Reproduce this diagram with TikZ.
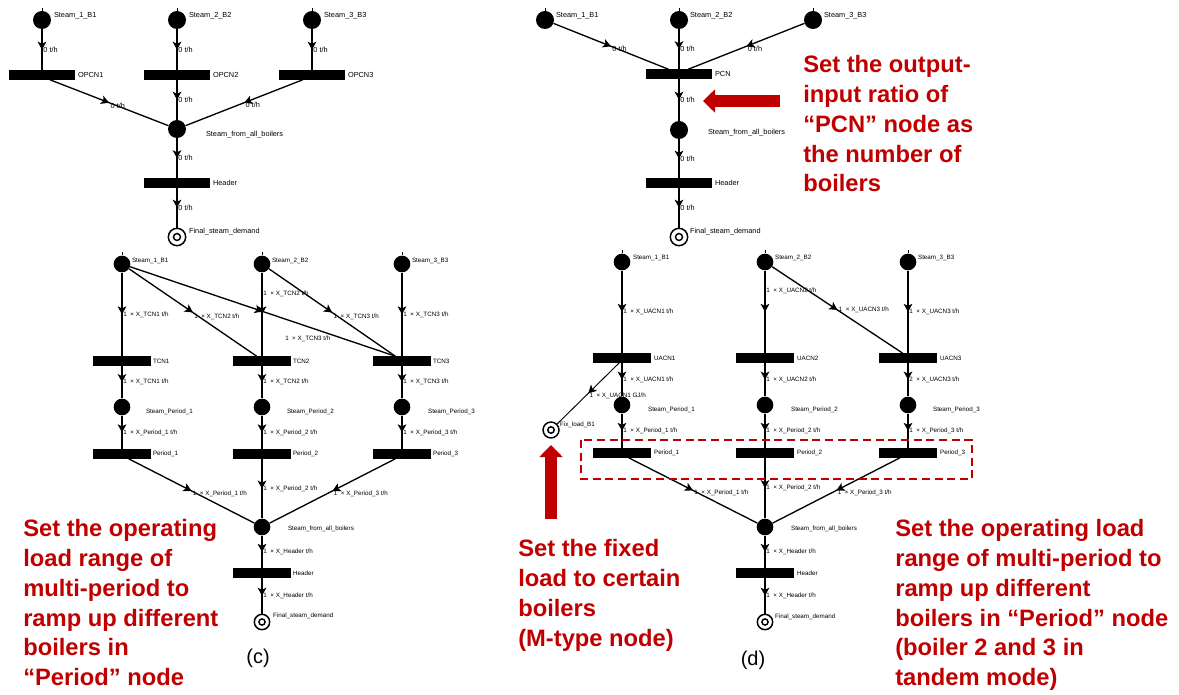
\documentclass[tikz,border=0pt]{standalone}
\usepackage{fontspec}
\setmainfont{Liberation Sans}
\usetikzlibrary{arrows.meta,decorations.markings,positioning}
\definecolor{annot}{RGB}{192,0,0}

\begin{document}
\begin{tikzpicture}
    [x=0.75pt,y=-0.75pt,%
    place/.style={circle,fill=black,minimum size=#1,inner sep=0pt},
    place/.default=13.5pt,
    bar/.style={fill=black,minimum width=#1,minimum height=6.8pt,inner sep=0pt},
    bar/.default=50pt,
    sink/.style={circle,draw,line width=1.1pt,minimum size=#1,inner sep=0pt,
      path picture={
        \draw[line width=1.1pt] (path picture bounding box.center) circle ({0.2*#1});
      }},
    sink/.default=13pt,
    flow/.style={line width=1pt,postaction={decorate},
      decoration={markings,mark=at position #1 with {\arrow{Stealth[length=6pt,width=6.5pt,inset=1.5pt]}}}},
    flow/.default=0.5,
    lbl/.style={font=\fontsize{5.5}{6.5}\selectfont,inner sep=0.6pt},
    slbl/.style={font=\fontsize{4.7}{5.6}\selectfont,inner sep=0.6pt},
    note/.style={text=annot,font=\fontsize{17.8}{22.4}\selectfont\bfseries,align=left,inner sep=0pt},
    bigarrow/.style={annot,line width=9pt,-{Triangle[length=9pt,width=17pt]}}]
    \tikzstyle{elbl}=[lbl,anchor=west]
    \tikzstyle{eslbl}=[slbl,anchor=west]
    \useasboundingbox (0,0) rectangle (1179,695);

    % (a) one OPCN node per boiler
    \node[place] (a-s1) at (42,20) {};
    \node[place] (a-s2) at (177,20) {};
    \node[place] (a-s3) at (312,20) {};
    \node[bar] (a-o1) at (42,75) {};
    \node[bar] (a-o2) at (177,75) {};
    \node[bar] (a-o3) at (312,75) {};
    \node[place] (a-all) at (177,129) {};
    \node[bar] (a-hdr) at (177,183) {};
    \node[sink] (a-fin) at (177,237) {};

    \node[lbl,anchor=west] (a-s1l) at (53,16) {Steam\_1\_B1};
    \node[lbl,anchor=west] (a-s2l) at (188,16) {Steam\_2\_B2};
    \node[lbl,anchor=west] (a-s3l) at (323,16) {Steam\_3\_B3};
    \node[lbl,anchor=west] (a-o1l) at (77,75) {OPCN1};
    \node[lbl,anchor=west] (a-o2l) at (212,75) {OPCN2};
    \node[lbl,anchor=west] (a-o3l) at (347,75) {OPCN3};
    \node[lbl,anchor=west] (a-alll) at (205,135) {Steam\_from\_all\_boilers};
    \node[lbl,anchor=west] (a-hdrl) at (212,183) {Header};
    \node[lbl,anchor=west] (a-finl) at (188,232) {Final\_steam\_demand};

    \draw[flow] (a-s1) -- node[elbl] {0 t/h} (a-o1);
    \draw[flow] (a-s2) -- node[elbl] {0 t/h} (a-o2);
    \draw[flow] (a-s3) -- node[elbl] {0 t/h} (a-o3);
    \draw[flow] ([xshift=6pt]a-o1.south) -- node[elbl,yshift=-2pt] {0 t/h} (a-all);
    \draw[flow] (a-o2) -- node[elbl] {0 t/h} (a-all);
    \draw[flow] ([xshift=-7pt]a-o3.south) -- node[elbl,yshift=-2pt] {0 t/h} (a-all);
    \draw[flow] (a-all) -- node[elbl] {0 t/h} (a-hdr);
    \draw[flow] (a-hdr) -- node[elbl] {0 t/h} (a-fin);

    % (b) one PCN node for all boilers
    \node[place] (b-s1) at (545,20) {};
    \node[place] (b-s2) at (679,20) {};
    \node[place] (b-s3) at (813,20) {};
    \node[bar] (b-pcn) at (679,74) {};
    \node[place] (b-all) at (679,130) {};
    \node[bar] (b-hdr) at (679,183) {};
    \node[sink] (b-fin) at (679,237) {};

    \node[lbl,anchor=west] (b-s1l) at (555,16) {Steam\_1\_B1};
    \node[lbl,anchor=west] (b-s2l) at (689,16) {Steam\_2\_B2};
    \node[lbl,anchor=west] (b-s3l) at (823,16) {Steam\_3\_B3};
    \node[lbl,anchor=west] (b-pcnl) at (714,74) {PCN};
    \node[lbl,anchor=west] (b-alll) at (707,133) {Steam\_from\_all\_boilers};
    \node[lbl,anchor=west] (b-hdrl) at (714,183) {Header};
    \node[lbl,anchor=west] (b-finl) at (689,232) {Final\_steam\_demand};

    \draw[flow] (b-s1) -- node[elbl,yshift=-2pt] {0 t/h} ([xshift=-8pt]b-pcn.north);
    \draw[flow] (b-s2) -- node[elbl] {0 t/h} (b-pcn);
    \draw[flow] (b-s3) -- node[elbl,yshift=-2pt] {0 t/h} ([xshift=7pt]b-pcn.north);
    \draw[flow] (b-pcn) -- node[elbl] {0 t/h} (b-all);
    \draw[flow] (b-all) -- node[elbl] {0 t/h} (b-hdr);
    \draw[flow] (b-hdr) -- node[elbl] {0 t/h} (b-fin);

    % (c) TCN nodes and periods
    \node[place=12.5pt] (c-s1) at (122,264) {};
    \node[place=12.5pt] (c-s2) at (262,264) {};
    \node[place=12.5pt] (c-s3) at (402,264) {};
    \node[bar=43.5pt] (c-t1) at (122,361) {};
    \node[bar=43.5pt] (c-t2) at (262,361) {};
    \node[bar=43.5pt] (c-t3) at (402,361) {};
    \node[place=12.5pt] (c-p1) at (122,407) {};
    \node[place=12.5pt] (c-p2) at (262,407) {};
    \node[place=12.5pt] (c-p3) at (402,407) {};
    \node[bar=43.5pt] (c-r1) at (122,454) {};
    \node[bar=43.5pt] (c-r2) at (262,454) {};
    \node[bar=43.5pt] (c-r3) at (402,454) {};
    \node[place=12.5pt] (c-all) at (262,527) {};
    \node[bar=43.5pt] (c-hdr) at (262,573) {};
    \node[sink=11.5pt] (c-fin) at (262,622) {};

    \node[slbl,anchor=west] (c-s1l) at (131,261) {Steam\_1\_B1};
    \node[slbl,anchor=west] (c-s2l) at (271,261) {Steam\_2\_B2};
    \node[slbl,anchor=west] (c-s3l) at (411,261) {Steam\_3\_B3};
    \node[slbl,anchor=west] (c-t1l) at (152,361) {TCN1};
    \node[slbl,anchor=west] (c-t2l) at (292,361) {TCN2};
    \node[slbl,anchor=west] (c-t3l) at (432,361) {TCN3};
    \node[slbl,anchor=west] (c-p1l) at (145,412) {Steam\_Period\_1};
    \node[slbl,anchor=west] (c-p2l) at (286,412) {Steam\_Period\_2};
    \node[slbl,anchor=west] (c-p3l) at (427,412) {Steam\_Period\_3};
    \node[slbl,anchor=west] (c-r1l) at (152,454) {Period\_1};
    \node[slbl,anchor=west] (c-r2l) at (292,454) {Period\_2};
    \node[slbl,anchor=west] (c-r3l) at (432,454) {Period\_3};
    \node[slbl,anchor=west] (c-alll) at (287,529) {Steam\_from\_all\_boilers};
    \node[slbl,anchor=west] (c-hdrl) at (292,573) {Header};
    \node[slbl,anchor=west] (c-finl) at (272,616) {Final\_steam\_demand};

    \draw[flow] (c-s1) -- node[eslbl] {1 \ × X\_TCN1 t/h} (c-t1);
    \draw[flow] (c-s1) -- node[eslbl,yshift=-3pt] {1 \ × X\_TCN2 t/h} ([xshift=-4pt]c-t2.north);
    \draw[flow] (c-s1) -- node[slbl,pos=0.67,yshift=-9pt] {1 \ × X\_TCN3 t/h} ([xshift=-5pt]c-t3.north);
    \draw[flow] (c-s2) -- node[eslbl,pos=0.25] {1 \ × X\_TCN2 t/h} (c-t2);
    \draw[flow] (c-s2) -- node[eslbl,yshift=-3pt] {1 \ × X\_TCN3 t/h} ([xshift=-5pt]c-t3.north);
    \draw[flow] (c-s3) -- node[eslbl] {1 \ × X\_TCN3 t/h} (c-t3);
    \draw[flow] (c-t1) -- node[eslbl] {1 \ × X\_TCN1 t/h} (c-p1);
    \draw[flow] (c-t2) -- node[eslbl] {1 \ × X\_TCN2 t/h} (c-p2);
    \draw[flow] (c-t3) -- node[eslbl] {1 \ × X\_TCN3 t/h} (c-p3);
    \draw[flow] (c-p1) -- node[eslbl] {1 \ × X\_Period\_1 t/h} (c-r1);
    \draw[flow] (c-p2) -- node[eslbl] {1 \ × X\_Period\_2 t/h} (c-r2);
    \draw[flow] (c-p3) -- node[eslbl] {1 \ × X\_Period\_3 t/h} (c-r3);
    \draw[flow] ([xshift=5pt]c-r1.south) -- node[eslbl,yshift=-2pt] {1 \ × X\_Period\_1 t/h} (c-all);
    \draw[flow] (c-r2) -- node[eslbl] {1 \ × X\_Period\_2 t/h} (c-all);
    \draw[flow] ([xshift=-5pt]c-r3.south) -- node[eslbl,yshift=-2pt] {1 \ × X\_Period\_3 t/h} (c-all);
    \draw[flow] (c-all) -- node[eslbl] {1 \ × X\_Header t/h} (c-hdr);
    \draw[flow] (c-hdr) -- node[eslbl] {1 \ × X\_Header t/h} (c-fin);

    % (d) UACN nodes, fixed load and periods
    \node[place=12.5pt] (d-s1) at (622,262) {};
    \node[place=12.5pt] (d-s2) at (765,262) {};
    \node[place=12.5pt] (d-s3) at (908,262) {};
    \node[bar=43.5pt] (d-u1) at (622,358) {};
    \node[bar=43.5pt] (d-u2) at (765,358) {};
    \node[bar=43.5pt] (d-u3) at (908,358) {};
    \node[place=12.5pt] (d-p1) at (622,405) {};
    \node[place=12.5pt] (d-p2) at (765,405) {};
    \node[place=12.5pt] (d-p3) at (908,405) {};
    \node[bar=43.5pt] (d-r1) at (622,453) {};
    \node[bar=43.5pt] (d-r2) at (765,453) {};
    \node[bar=43.5pt] (d-r3) at (908,453) {};
    \node[sink=12pt] (d-fix) at (551,430) {};
    \node[place=12.5pt] (d-all) at (765,527) {};
    \node[bar=43.5pt] (d-hdr) at (765,573) {};
    \node[sink=11.5pt] (d-fin) at (765,622) {};

    \node[slbl,anchor=west] (d-s1l) at (632,258) {Steam\_1\_B1};
    \node[slbl,anchor=west] (d-s2l) at (774,258) {Steam\_2\_B2};
    \node[slbl,anchor=west] (d-s3l) at (917,258) {Steam\_3\_B3};
    \node[slbl,anchor=west] (d-u1l) at (653,358) {UACN1};
    \node[slbl,anchor=west] (d-u2l) at (796,358) {UACN2};
    \node[slbl,anchor=west] (d-u3l) at (939,358) {UACN3};
    \node[slbl,anchor=west] (d-p1l) at (647,410) {Steam\_Period\_1};
    \node[slbl,anchor=west] (d-p2l) at (790,410) {Steam\_Period\_2};
    \node[slbl,anchor=west] (d-p3l) at (932,410) {Steam\_Period\_3};
    \node[slbl,anchor=west] (d-r1l) at (653,453) {Period\_1};
    \node[slbl,anchor=west] (d-r2l) at (796,453) {Period\_2};
    \node[slbl,anchor=west] (d-r3l) at (939,453) {Period\_3};
    \node[slbl,anchor=west] (d-fixl) at (559,425) {Fix\_load\_B1};
    \node[slbl,anchor=west] (d-alll) at (790,529) {Steam\_from\_all\_boilers};
    \node[slbl,anchor=west] (d-hdrl) at (796,573) {Header};
    \node[slbl,anchor=west] (d-finl) at (774,617) {Final\_steam\_demand};

    \draw[flow] (d-s1) -- node[eslbl] {1 \ × X\_UACN1 t/h} (d-u1);
    \draw[flow] (d-s2) -- node[eslbl,pos=0.25] {1 \ × X\_UACN2 t/h} (d-u2);
    \draw[flow] (d-s2) -- node[eslbl] {1 \ × X\_UACN3 t/h} ([xshift=-4pt]d-u3.north);
    \draw[flow] (d-s3) -- node[eslbl] {1 \ × X\_UACN3 t/h} (d-u3);
    \draw[flow,line width=0.7pt] ([xshift=-2pt]d-u1.south) -- node[eslbl,yshift=-2pt] {1 \ × X\_UACN1 GJ/h} (d-fix);
    \draw[flow] (d-u1) -- node[eslbl] {1 \ × X\_UACN1 t/h} (d-p1);
    \draw[flow] (d-u2) -- node[eslbl] {1 \ × X\_UACN2 t/h} (d-p2);
    \draw[flow] (d-u3) -- node[eslbl] {2 \ × X\_UACN3 t/h} (d-p3);
    \draw[flow] (d-p1) -- node[eslbl] {1 \ × X\_Period\_1 t/h} (d-r1);
    \draw[flow] (d-p2) -- node[eslbl] {1 \ × X\_Period\_2 t/h} (d-r2);
    \draw[flow] (d-p3) -- node[eslbl] {1 \ × X\_Period\_3 t/h} (d-r3);
    \draw[flow] ([xshift=5pt]d-r1.south) -- node[eslbl,yshift=-2pt] {1 \ × X\_Period\_1 t/h} (d-all);
    \draw[flow] (d-r2) -- node[eslbl] {1 \ × X\_Period\_2 t/h} (d-all);
    \draw[flow] ([xshift=-6pt]d-r3.south) -- node[eslbl,yshift=-2pt] {1 \ × X\_Period\_3 t/h} (d-all);
    \draw[flow] (d-all) -- node[eslbl] {1 \ × X\_Header t/h} (d-hdr);
    \draw[flow] (d-hdr) -- node[eslbl] {1 \ × X\_Header t/h} (d-fin);

    % small input ticks on the boilers
    \foreach \n in {a-s1,a-s2,a-s3,b-s1,b-s2,b-s3,c-s1,c-s2,c-s3,d-s1,d-s2,d-s3}
      \draw[line width=0.6pt] (\n.north) -- ++(0,-3);

    % notes
    \draw[annot,line width=1.5pt,dash pattern=on 6pt off 3.5pt] (581,440) rectangle (972,479);
    \coordinate (pcn-tail) at (780,101);
    \coordinate (pcn-tip) at (703,101);
    \draw[bigarrow] (pcn-tail) -- (pcn-tip);
    \coordinate (fix-tail) at (551,519);
    \coordinate (fix-tip) at (551,445);
    \draw[bigarrow] (fix-tail) -- (fix-tip);

    \node[note,anchor=north west] (pcn-note) at (803,55) {Set the output-\\input ratio of\\“PCN” node as\\the number of\\boilers};
    \node[note,anchor=north west] (c-note) at (23,519) {Set the operating\\load range of\\multi-period to\\ramp up different\\boilers in\\“Period” node};
    \node[note,anchor=north west] (fix-note) at (518,539) {Set the fixed\\load to certain\\boilers\\(M-type node)};
    \node[note,anchor=north west] (d-note) at (895,519) {Set the operating load\\range of multi-period to\\ramp up different\\boilers in “Period” node\\(boiler 2 and 3 in\\tandem mode)};

    \node[font=\fontsize{15}{18}\selectfont] (c-cap) at (258,658) {(c)};
    \node[font=\fontsize{15}{18}\selectfont] (d-cap) at (753,660) {(d)};
  \end{tikzpicture}
\end{document}
